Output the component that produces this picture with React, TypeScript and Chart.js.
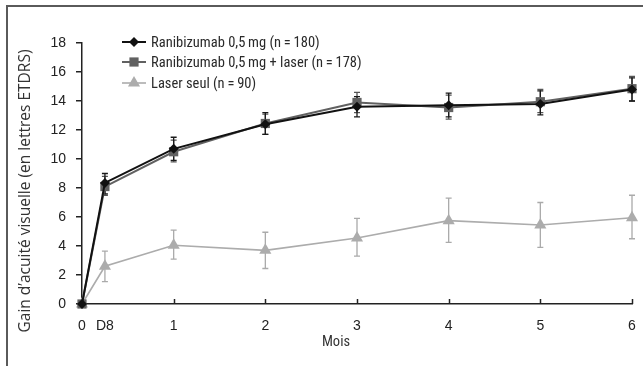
import React, { useEffect, useRef } from "react";
import { Chart, registerables } from "chart.js";

Chart.register(...registerables);

const xValues = [0, 0.25, 1, 2, 3, 4, 5, 6];
const xTickValues = [0, 0.25, 1, 2, 3, 4, 5, 6];
const xTickLabels = ["0", "D8", "1", "2", "3", "4", "5", "6"];
const xMarkTicks = [1, 2, 3, 4, 5, 6];

const seriesNames = [
  "Ranibizumab 0,5\u2009mg (n\u2009=\u2009180)",
  "Ranibizumab 0,5\u2009mg + laser (n\u2009=\u2009178)",
  "Laser seul (n\u2009=\u200990)",
];

const ranibizumab = [0, 8.35, 10.7, 12.4, 13.6, 13.7, 13.8, 14.8];
const ranibizumabLow = [null, 7.6, 9.9, 11.7, 12.9, 12.9, 13.05, 14.0];
const ranibizumabHigh = [null, 9.0, 11.5, 13.2, 14.3, 14.55, 14.7, 15.6];

const ranibLaser = [0, 8.1, 10.5, 12.45, 13.9, 13.55, 13.95, 14.85];
const ranibLaserLow = [null, 7.5, 9.8, 11.7, 13.2, 12.75, 13.2, 14.0];
const ranibLaserHigh = [null, 8.8, 11.3, 13.1, 14.6, 14.4, 14.8, 15.7];

const laser = [0, 2.6, 4.05, 3.7, 4.55, 5.75, 5.45, 5.95];
const laserLow = [null, 1.55, 3.1, 2.45, 3.3, 4.25, 3.9, 4.5];
const laserHigh = [null, 3.65, 5.1, 4.95, 5.9, 7.3, 7.0, 7.5];

const yTitle = "Gain d\u2019acuité visuelle (en lettres ETDRS)";
const xTitle = "Mois";

const NARROW = '"Liberation Sans Narrow", "Roboto Condensed", Roboto, sans-serif';

const lows = [ranibizumabLow, ranibLaserLow, laserLow];
const highs = [ranibizumabHigh, ranibLaserHigh, laserHigh];
const errColors = ["#1a1a1a", "#555555", "#aaaaaa"];

function drawMarker(ctx: CanvasRenderingContext2D, style: string, x: number, y: number, r: number, color: string) {
  ctx.save();
  ctx.fillStyle = color;
  ctx.beginPath();
  if (style === "rectRot") {
    ctx.moveTo(x, y - r);
    ctx.lineTo(x + r, y);
    ctx.lineTo(x, y + r);
    ctx.lineTo(x - r, y);
    ctx.closePath();
  } else if (style === "rect") {
    const s = r * Math.SQRT1_2;
    ctx.rect(x - s, y - s, 2 * s, 2 * s);
  } else {
    ctx.moveTo(x, y - r);
    ctx.lineTo(x + r * 0.866, y + r * 0.5);
    ctx.lineTo(x - r * 0.866, y + r * 0.5);
    ctx.closePath();
  }
  ctx.fill();
  ctx.restore();
}

const customPlugin = {
  id: "custom",
  beforeDraw(chart: any) {
    const ctx = chart.ctx;
    ctx.save();
    ctx.fillStyle = "#ffffff";
    ctx.fillRect(0, 0, chart.width, chart.height);
    ctx.fillStyle = "#5a5a5a";
    ctx.fillRect(6, 5, chart.width - 6, 2);
    ctx.fillRect(6, 5, 2, chart.height - 5);
    ctx.restore();
  },
  beforeDatasetsDraw(chart: any) {
    const ctx = chart.ctx;
    const xs = chart.scales.x;
    const ys = chart.scales.y;
    ctx.save();
    ctx.strokeStyle = "#222";
    ctx.lineWidth = 1.5;
    xMarkTicks.forEach((v) => {
      const px = Math.round(xs.getPixelForValue(v)) + 0.5;
      ctx.beginPath();
      ctx.moveTo(px, ys.bottom);
      ctx.lineTo(px, ys.bottom - 5);
      ctx.stroke();
    });
    for (let d = 2; d >= 0; d--) {
      ctx.strokeStyle = errColors[d];
      ctx.lineWidth = 1.3;
      xValues.forEach((xv, i) => {
        const lo = lows[d][i];
        const hi = highs[d][i];
        if (lo == null || hi == null) return;
        const px = xs.getPixelForValue(xv);
        const pl = ys.getPixelForValue(lo);
        const ph = ys.getPixelForValue(hi);
        ctx.beginPath();
        ctx.moveTo(px, pl);
        ctx.lineTo(px, ph);
        ctx.moveTo(px - 3, pl);
        ctx.lineTo(px + 3, pl);
        ctx.moveTo(px - 3, ph);
        ctx.lineTo(px + 3, ph);
        ctx.stroke();
      });
    }
    ctx.restore();
  },
  afterDraw(chart: any) {
    const ctx = chart.ctx;
    ctx.save();
    const rows = [42, 62, 83];
    chart.data.datasets.forEach((ds: any, i: number) => {
      const y = rows[i];
      ctx.strokeStyle = ds.borderColor;
      ctx.lineWidth = ds.borderWidth;
      ctx.beginPath();
      ctx.moveTo(122, y);
      ctx.lineTo(146, y);
      ctx.stroke();
      drawMarker(ctx, ds.pointStyle, 134, y, ds.pointRadius, ds.pointBackgroundColor);
      ctx.fillStyle = "#2a2a2a";
      ctx.font = "14.5px " + NARROW;
      ctx.textAlign = "left";
      ctx.textBaseline = "middle";
      ctx.fillText(ds.label, 151, y + 1);
    });
    ctx.save();
    ctx.translate(26, 191);
    ctx.rotate(-Math.PI / 2);
    ctx.fillStyle = "#333";
    ctx.font = '15.5px "Open Sans", sans-serif';
    ctx.textAlign = "center";
    ctx.textBaseline = "middle";
    ctx.fillText(yTitle, 0, 0);
    ctx.restore();
    ctx.fillStyle = "#333";
    ctx.font = "14.5px " + NARROW;
    ctx.textAlign = "center";
    ctx.textBaseline = "middle";
    ctx.fillText(xTitle, 336, 342);
    ctx.restore();
  },
};

export default function App() {
  const ref = useRef<HTMLCanvasElement | null>(null);
  useEffect(() => {
    if (!ref.current) return;
    const mk = (
      label: string,
      data: number[],
      color: string,
      width: number,
      style: string,
      radius: number,
      order: number
    ) => ({
      label,
      data: data.map((v, i) => ({ x: xValues[i], y: v })),
      borderColor: color,
      backgroundColor: color,
      pointBackgroundColor: color,
      pointBorderColor: color,
      pointBorderWidth: 0,
      borderWidth: width,
      pointStyle: style,
      pointRadius: radius,
      order,
      tension: 0,
      clip: false,
    });
    const chart = new Chart(ref.current, {
      type: "line",
      data: {
        datasets: [
          mk(seriesNames[0], ranibizumab, "#111111", 2, "rectRot", 5, 1),
          mk(seriesNames[1], ranibLaser, "#616161", 2, "rect", 6.5, 2),
          mk(seriesNames[2], laser, "#acacac", 1.6, "triangle", 7, 3),
        ] as any,
      },
      options: {
        animation: false,
        responsive: true,
        maintainAspectRatio: false,
        layout: { padding: { left: 8, top: 43, right: 11, bottom: 6 } },
        plugins: { legend: { display: false }, tooltip: { enabled: false } },
        scales: {
          x: {
            type: "linear",
            min: 0,
            max: 6,
            afterBuildTicks: (scale: any) => {
              scale.ticks = xTickValues.map((v) => ({ value: v }));
            },
            afterFit: (scale: any) => {
              scale.height = 56;
            },
            ticks: {
              autoSkip: false,
              maxRotation: 0,
              padding: 6,
              color: "#222",
              font: { family: '"Liberation Sans", Arial, sans-serif', size: 14 },
              callback: (v: any) => {
                const idx = xTickValues.indexOf(Number(v));
                return idx >= 0 ? xTickLabels[idx] : "";
              },
            },
            grid: { display: false },
            border: { display: true, color: "#222", width: 1.5 },
          },
          y: {
            min: 0,
            max: 18,
            afterFit: (scale: any) => {
              scale.width = 74;
            },
            ticks: {
              stepSize: 2,
              padding: 10,
              color: "#222",
              font: { family: '"Liberation Sans", Arial, sans-serif', size: 14 },
            },
            grid: { drawOnChartArea: false, drawTicks: true, tickLength: 6, color: "#222", lineWidth: 1.5 },
            border: { display: true, color: "#222", width: 1.5 },
          },
        },
      } as any,
      plugins: [customPlugin],
    });
    return () => chart.destroy();
  }, []);
  return (
    <div style={{ position: "fixed", left: 0, top: 0, width: 643, height: 366, background: "#fff" }}>
      <canvas ref={ref} />
    </div>
  );
}
